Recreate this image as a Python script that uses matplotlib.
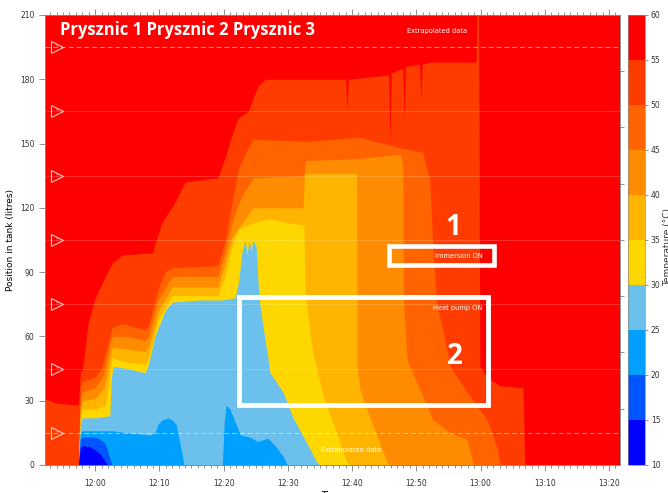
import numpy as np
import matplotlib
matplotlib.use('Agg')
import matplotlib.pyplot as plt
import matplotlib.cm as cm
from matplotlib.colors import ListedColormap, BoundaryNorm
from matplotlib.patches import Rectangle
from matplotlib.ticker import MultipleLocator, FixedLocator, FuncFormatter


# temperature levels of the colour bands (degC)
levels = [10, 15, 20, 25, 30, 35, 40, 45, 50, 55, 60]
band_colors = ['#0000FF', '#0055FF', '#00A0FF', '#6CC0EC', '#FFD700',
               '#FFB400', '#FF8C00', '#FF6400', '#FF3C00', '#FF0000']

# time in minutes after 12:00, height in litres below which water is colder
# than the given level
t55 = [-7.8, -6.2, -3.1, -2.6, -2.3, -2.0, -1.1, 0.0, 1.6, 2.6, 4.2, 8.9, 9.3,
       10.4, 12.5, 14.0, 19.1, 20.2, 21.3, 22.3, 23.8, 25.4, 26.5, 35.0, 39.0,
       39.2, 39.4, 45.7, 45.9, 46.1, 47.9, 48.1, 48.3, 50.5, 50.7, 50.9, 52.1,
       59.3, 59.45, 59.7, 59.9, 61.0, 63.0, 66.6, 66.9, 81.7]
h55 = [31, 29, 28, 28, 44, 44, 66, 78, 88, 94, 98, 99, 103,
       113, 123, 132, 134, 143, 154, 162, 165, 177, 180, 180, 180,
       165, 180, 182, 150, 183, 185, 160, 186, 187, 170, 187, 188,
       188, 210, 210, 46, 41, 37, 36, 0, 0]

t50 = [-7.8, -2.6, -2.3, -2.0, 0.0, 1.0, 1.9, 2.6, 4.2, 7.8, 8.3, 9.8, 10.9,
       12.0, 19.1, 20.2, 21.3, 22.3, 23.8, 24.6, 33.0, 41.0, 47.5, 51.0, 52.1,
       52.6, 53.2, 54.2, 55.25, 57.9, 61.0, 62.6, 63.0, 63.3, 81.7]
h50 = [0, 0, 35, 39, 41, 45, 55, 64, 66, 63, 65, 82, 90,
       92, 93, 104, 122, 138, 148, 152, 151, 153, 148, 146, 133,
       100, 75, 62, 46, 34, 21, 8, 1, 0, 0]

t45 = [-7.8, -2.6, -2.3, -2.0, 0.0, 1.3, 2.2, 2.65, 5.0, 7.8, 8.3, 9.8, 12.0,
       19.1, 20.2, 21.3, 22.6, 24.6, 32.5, 32.7, 41.0, 47.5, 47.9, 48.0, 48.56,
       50.58, 52.6, 55.25, 57.9, 58.8, 59.3, 81.7]
h45 = [0, 0, 31, 34, 36, 42, 55, 60, 60, 58, 60, 77, 88,
       88, 99, 113, 124, 134, 135, 142, 143, 145, 140, 77, 49,
       35, 21, 15, 12, 1, 0, 0]

t40 = [-7.8, -2.6, -2.3, -2.0, 0.0, 1.4, 2.3, 2.65, 5.0, 7.8, 8.3, 9.8, 12.0,
       19.1, 20.2, 21.3, 23.4, 24.6, 32.4, 32.6, 40.7, 40.8, 41.25, 42.8,
       44.36, 45.45, 45.9, 81.7]
h40 = [0, 0, 27, 30, 31, 36, 50, 55, 54, 53, 55, 72, 83,
       83, 94, 106, 115, 120, 120, 136, 136, 46, 35, 22,
       10, 1, 0, 0]

t35 = [-7.8, -2.6, -2.3, -2.0, 0.0, 1.6, 2.4, 2.65, 5.0, 7.8, 8.3, 9.8, 12.0,
       19.1, 20.2, 21.3, 22.26, 24.6, 27.0, 30.0, 32.5, 32.7, 33.8, 35.5,
       37.0, 39.2, 39.7, 81.7]
h35 = [0, 0, 23, 26, 26, 28, 45, 50, 48, 47, 50, 68, 79,
       79, 88, 102, 110, 113, 115, 113, 112, 80, 54, 32,
       20, 1, 0, 0]

t30 = [-7.8, -2.6, -2.3, -2.0, 0.0, 2.3, 2.5, 2.8, 5.0, 7.8, 8.3, 9.3, 10.9,
       12.0, 16.3, 19.8, 21.8, 22.3, 22.9, 23.35, 23.66, 23.97, 24.28, 24.59,
       25.06, 25.37, 25.68, 27.24, 29.26, 30.82, 33.0, 34.55, 35.0, 81.7]
h30 = [0, 0, 19, 22, 22, 23, 40, 46, 45, 43, 47, 60, 72,
       76, 77, 77, 78, 85, 100, 105, 98, 105, 100, 105,
       102, 85, 74, 43, 34, 22, 10, 1, 0, 0]

t25 = [-7.8, -2.6, -2.3, -2.0, 2.65, 5.1, 8.6, 9.3, 9.8, 10.4, 11.4, 12.0,
       12.6, 13.2, 13.85, 19.8, 20.1, 20.4, 21.0, 21.8, 22.6, 24.1, 25.3,
       26.9, 28.0, 29.3, 29.9, 81.7]
h25 = [0, 0, 15, 16, 16, 15, 14, 15, 19, 21, 22, 21,
       19, 10, 0, 0, 20, 28, 26, 20, 14, 13, 11,
       12.5, 9, 4, 0, 0]

t20 = [-7.8, -2.6, -2.3, -2.0, 0.0, 0.8, 1.56, 1.9, 2.3, 2.6, 81.7]
h20 = [0, 0, 12, 13, 13, 12, 10, 7, 3, 0, 0]

t15 = [-7.8, -2.6, -2.3, -2.0, -0.8, 0.0, 0.8, 1.3, 1.9, 81.7]
h15 = [0, 0, 8, 9, 8.5, 7, 5, 3, 0, 0]

# sensor heights (litres)
sensors = [15, 45, 75, 105, 135, 165, 195]

x_min, x_max = -7.8, 81.7
y_min, y_max = 0, 210


def clock(m, pos=None):
    total = 720 + m
    return '%d:%02d' % (int(total // 60), int(round(total % 60)))


fig = plt.figure(figsize=(6.68, 4.93), dpi=100)
ax = fig.add_axes([0.0674, 0.0568, 0.8606, 0.9128])
ax.set_facecolor(band_colors[9])

bounds = [(t55, h55), (t50, h50), (t45, h45), (t40, h40), (t35, h35),
          (t30, h30), (t25, h25), (t20, h20), (t15, h15)]
for (t, h), c in zip(bounds, band_colors[8::-1]):
    ax.fill_between(t, 0, h, color=c, linewidth=0)

# sensor lines and markers
for s in sensors:
    if s in (15, 195):
        ax.axhline(s, color='white', lw=0.7, ls=(0, (5, 3)), alpha=0.55)
    else:
        ax.axhline(s, color='white', lw=0.5, alpha=0.25)
    ax.plot(-5.9, s, marker='>', ms=8, mfc='none', mec='#FFC4C4', mew=0.8)
    ax.text(-6.05, s, 'T', fontsize=3, color='#FFC4C4', ha='center', va='center')

ax.text(53.2, 202.5, 'Extrapolated data', color='white', fontsize=4.8,
        ha='center', va='center')
ax.text(39.8, 7.0, 'Extrapolated data', color='white', fontsize=4.8,
        ha='center', va='center')

# annotation boxes
ax.add_patch(Rectangle((45.8, 93.3), 16.3, 8.9, fill=False, ec='white', lw=3.3))
ax.add_patch(Rectangle((22.4, 28.0), 38.8, 50.4, fill=False, ec='white', lw=3.5))
ax.text(56.65, 97.7, 'Immersion ON', color='white', fontsize=4.8, ha='center', va='center')
ax.text(56.5, 73.3, 'Heat pump ON', color='white', fontsize=4.8, ha='center', va='center')
ax.text(55.7, 110.6, '1', color='white', fontsize=20, fontweight='bold',
        family='Open Sans', ha='center', va='center')
ax.text(56.0, 50.4, '2', color='white', fontsize=20, fontweight='bold',
        family='Open Sans', ha='center', va='center')
ax.text(-5.4, 203, 'Prysznic 1 Prysznic 2 Prysznic 3', color='white', fontsize=12,
        fontweight='bold', family='Open Sans', ha='left', va='center')

ax.set_xlim(x_min, x_max)
ax.set_ylim(y_min, y_max)
ax.xaxis.set_major_locator(MultipleLocator(10))
ax.xaxis.set_minor_locator(MultipleLocator(1))
ax.xaxis.set_major_formatter(FuncFormatter(clock))
ax.yaxis.set_major_locator(MultipleLocator(30))
ax.tick_params(which='both', direction='out', color='#666666', width=0.5,
               labelsize=5.5, labelcolor='#333333', top=True)
ax.tick_params(which='major', length=4)
ax.tick_params(which='minor', length=2.5)
ax.tick_params(axis='x', pad=6)

ay = ax.twinx()
ay.set_ylim(y_min, y_max)
ay.yaxis.set_major_locator(FixedLocator([210 / 8 * k for k in range(1, 8)]))
ay.tick_params(direction='out', color='#666666', width=0.5, length=3, labelright=False)

for a in (ax, ay):
    for sp in a.spines.values():
        sp.set_color('#888888')
        sp.set_linewidth(0.5)

ax.set_xlabel('Time', fontsize=6.5, labelpad=2)
ax.set_ylabel('Position in tank (litres)', fontsize=6.5, labelpad=4)

# colour bar
cax = fig.add_axes([0.940, 0.0568, 0.026, 0.9128])
cmap = ListedColormap(band_colors)
norm = BoundaryNorm(levels, cmap.N)
cb = fig.colorbar(cm.ScalarMappable(norm=norm, cmap=cmap), cax=cax, ticks=levels)
cb.outline.set_linewidth(0.5)
cb.outline.set_edgecolor('#888888')
cax.tick_params(labelsize=5.5, labelcolor='#333333', color='#666666', width=0.5,
                length=2.5, pad=1.5)
fig.text(1.0, 0.50, 'Temperature (\u00b0C)', rotation=90, fontsize=6.5,
         ha='center', va='center', color='#333333')

fig.savefig('out.png', dpi=100)
